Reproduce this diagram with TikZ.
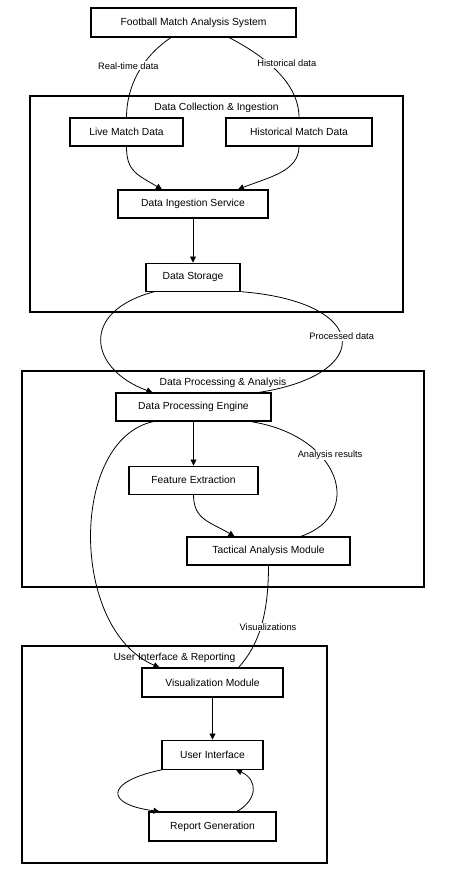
\documentclass[tikz,border=0pt]{standalone}
\usepackage{fontspec}
\setmainfont{Liberation Sans}
\usetikzlibrary{arrows.meta,positioning}

\begin{document}
\begin{tikzpicture}
      [ x=1pt, y=-1pt,
        >={Triangle[length=6pt,width=6pt]},
        box/.style={draw, line width=1.1pt, fill=white, inner sep=2pt,
                    minimum height=28pt, font=\fontsize{10.3}{12}\selectfont},
        cluster/.style={draw, line width=1.1pt, inner sep=0pt},
        clustertitle/.style={font=\fontsize{10.3}{12}\selectfont},
        flow/.style={line width=0.8pt},
        elabel/.style={fill=white, inner sep=1pt, font=\fontsize{9.3}{11}\selectfont}
      ]
      \useasboundingbox (0,0) rectangle (450,871);

      % the three groups
      \node[cluster, minimum width=373pt, minimum height=216pt] (collect) at (216.5,204)   {};
      \node[cluster, minimum width=402pt, minimum height=216pt] (process) at (223,479)     {};
      \node[cluster, minimum width=305pt, minimum height=217pt] (report)  at (174.5,754.5) {};
      \node[clustertitle] (collecttitle) at ([yshift=-12pt]collect.north) {Data Collection \& Ingestion};
      \node[clustertitle] (processtitle) at ([yshift=-12pt]process.north) {Data Processing \& Analysis};
      \node[clustertitle] (reporttitle)  at ([yshift=-12pt]report.north)  {User Interface \& Reporting};

      % the steps
      \node[box, minimum width=205pt, minimum height=29pt] (system)   at (193.5,22.5)          {Football Match Analysis System};
      \node[box, minimum width=113pt]                      (live)     at (126.5,132)           {Live Match Data};
      \node[box, minimum width=146pt]                      (hist)     at (299,132)             {Historical Match Data};
      \node[box, minimum width=150pt]                      (ingest)   at (193,204)             {Data Ingestion Service};
      \node[box, minimum width=94pt]                       (storage)  [below=44pt of ingest]   {Data Storage};
      \node[box, minimum width=155pt]                      (engine)   at (193.5,407)           {Data Processing Engine};
      \node[box, minimum width=129pt]                      (feature)  [below=44pt of engine]   {Feature Extraction};
      \node[box, minimum width=163pt]                      (tactical) at (268.5,551)           {Tactical Analysis Module};
      \node[box, minimum width=141pt, minimum height=29pt] (vis)      at (212.5,682.5)         {Visualization Module};
      \node[box, minimum width=101pt, minimum height=29pt] (ui)       [below=42pt of vis]      {User Interface};
      \node[box, minimum width=127pt, minimum height=29pt] (reportgen) at (212.5,826.5)        {Report Generation};

      % data collection
      \draw[flow] ([xshift=-22.5pt]system.south) .. controls +(-30,20) and +(0,-30) .. (live.north)
                  node[elabel, pos=0.4, xshift=-14pt] {Real-time data};
      \draw[flow] ([xshift=35.5pt]system.south) .. controls +(35,18) and +(0,-35) .. (hist.north)
                  node[elabel, pos=0.4, xshift=18pt] {Historical data};
      \draw[flow,->] (live.south) .. controls +(0,25) and +(-25,-15) .. ([xshift=-31pt]ingest.north);
      \draw[flow,->] (hist.south) .. controls +(0,25) and +(30,-12) .. ([xshift=45pt]ingest.north);
      \draw[flow,->] (ingest) -- (storage);

      % processing
      \draw[flow,->] ([xshift=9pt]storage.south west) .. controls +(-76,20) and +(-63,-23) .. ([xshift=37pt]engine.north west);
      \draw[flow] (storage.south east) .. controls +(130,10) and +(117,-18) .. ([xshift=-13pt]engine.north east)
                  node[elabel, pos=0.48] {Processed data};
      \draw[flow,->] (engine) -- (feature);
      \draw[flow,->] (feature.south) .. controls +(0,25) and +(-25,-15) .. ([xshift=48pt]tactical.north west);
      \draw[flow] ([xshift=-21pt]engine.south east) .. controls +(90,14) and +(65,-22) .. ([xshift=-50pt]tactical.north east)
                  node[elabel, pos=0.35, xshift=10pt] {Analysis results};

      % reporting
      \draw[flow,->] ([xshift=38pt]engine.south west) .. controls +(-84,18) and +(-90,-38) .. ([xshift=18pt]vis.north west);
      \draw[flow] (tactical.south) .. controls +(0,50) and +(20,-22) .. ([xshift=-45pt]vis.north east)
                  node[elabel, pos=0.5, xshift=7pt] {Visualizations};
      \draw[flow,->] (vis) -- (ui);
      \draw[flow,->] ([xshift=1pt]ui.south west) .. controls +(-58,12) and +(-55,-7) .. ([xshift=11pt]reportgen.north west);
      \draw[flow,->] ([xshift=24.5pt]reportgen.north) .. controls +(21,-12) and +(22,10) .. ([xshift=23.5pt]ui.south);
\end{tikzpicture}
\end{document}
